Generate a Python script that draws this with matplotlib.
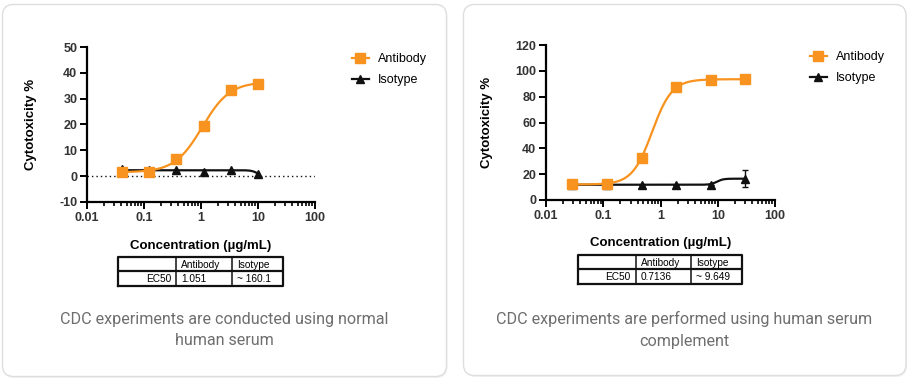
import numpy as np
import matplotlib
matplotlib.use("Agg")
import matplotlib.pyplot as plt
from matplotlib.patches import FancyBboxPatch
from matplotlib.lines import Line2D
from matplotlib.ticker import FixedLocator, FixedFormatter, LogLocator, NullFormatter

# ---- dati ----
# pannello sinistro (siero umano normale), diluizioni 1:3
conc_sx = [0.041, 0.123, 0.37, 1.11, 3.33, 10.0]
anticorpo_sx = [1.5, 1.5, 6.5, 19.5, 33.3, 35.6]
isotipo_sx = [2.8, 2.3, 2.3, 1.5, 2.3, 1.0]
# parametri del fit 4PL (bottom, top, EC50, hill)
fit_anticorpo_sx = (1.5, 36.5, 1.051, 1.8)
fit_isotipo_sx = (2.3, -0.3, 10.0, 8.0)

# pannello destro (complemento da siero umano), diluizioni 1:4
conc_dx = [0.029, 0.117, 0.469, 1.875, 7.5, 30.0]
anticorpo_dx = [12.4, 12.6, 32.8, 87.2, 92.9, 93.7]
isotipo_dx = [11.6, 12.0, 11.3, 11.5, 11.7, 16.5]
errore_isotipo_dx = [0, 0, 0, 0, 0, 6.7]
fit_anticorpo_dx = (12.0, 93.5, 0.7136, 2.5)
fit_isotipo_dx = (11.8, 16.5, 9.649, 8.0)

tabella_sx = [["", "Antibody", "Isotype"], ["EC50", "1.051", "~ 160.1"]]
tabella_dx = [["", "Antibody", "Isotype"], ["EC50", "0.7136", "~ 9.649"]]

didascalia_sx = "CDC experiments are conducted using normal\nhuman serum"
didascalia_dx = "CDC experiments are performed using human serum\ncomplement"

ARANCIO = "#f7931e"
NERO = "#111111"
W, H = 913, 384

plt.rcParams["font.family"] = ["Liberation Sans", "DejaVu Sans"]
plt.rcParams["axes.unicode_minus"] = False


def logistica(x, bottom, top, ec50, hill):
    return bottom + (top - bottom) / (1 + (ec50 / x) ** hill)


def disegna_pannello(ax, conc, anticorpo, isotipo, fit_a, fit_i, ylim, yticks, err=None):
    xx = np.logspace(np.log10(conc[0]), np.log10(conc[-1]), 300)
    ax.plot(xx, logistica(xx, *fit_a), color=ARANCIO, lw=1.6, zorder=3)
    ax.plot(xx, logistica(xx, *fit_i), color=NERO, lw=1.6, zorder=2)
    ax.errorbar(conc, isotipo, yerr=err, fmt="^", color=NERO, ms=6, capsize=2.5,
                elinewidth=1, zorder=4)
    ax.plot(conc, anticorpo, "s", color=ARANCIO, ms=7, zorder=5)

    ax.set_xscale("log")
    ax.set_xlim(0.01, 100)
    ax.set_ylim(*ylim)
    ax.xaxis.set_major_locator(FixedLocator([0.01, 0.1, 1, 10, 100]))
    ax.xaxis.set_major_formatter(FixedFormatter(["0.01", "0.1", "1", "10", "100"]))
    ax.xaxis.set_minor_locator(LogLocator(base=10, subs=np.arange(2, 10)))
    ax.xaxis.set_minor_formatter(NullFormatter())
    ax.set_yticks(yticks)
    for s in ["top", "right"]:
        ax.spines[s].set_visible(False)
    for s in ["left", "bottom"]:
        ax.spines[s].set_linewidth(1.6)
    ax.tick_params(which="major", length=5, width=1.4, labelsize=9, pad=2,
                   labelcolor="#333333")
    ax.tick_params(which="minor", length=3, width=1.2)
    for t in ax.get_xticklabels() + ax.get_yticklabels():
        t.set_fontweight("bold")
    ax.set_xlabel("Concentration (µg/mL)", fontsize=9.5, fontweight="bold")
    ax.set_ylabel("Cytotoxicity %", fontsize=9.5, fontweight="bold")
    ax.patch.set_alpha(0)

    # legenda con linea + marcatore
    maniglie = [Line2D([], [], color=ARANCIO, marker="s", ms=7, lw=1.6),
                Line2D([], [], color=NERO, marker="^", ms=6, lw=1.6)]
    return maniglie


def disegna_tabella(fig, px, righe):
    # px = (x0, y0, x1, y1) in pixel dell'immagine
    x0, y0, x1, y1 = px
    ax = fig.add_axes([x0 / W, 1 - y1 / H, (x1 - x0) / W, (y1 - y0) / H])
    ax.set_xlim(0, 1)
    ax.set_ylim(0, 1)
    ax.axis("off")
    cols = [0, 0.352, 0.691, 1.0]
    ax.plot([0, 1, 1, 0, 0], [0, 0, 1, 1, 0], color=NERO, lw=1.6, clip_on=False)
    ax.plot([0, 1], [0.5, 0.5], color=NERO, lw=1.6)
    for c in cols[1:-1]:
        ax.plot([c, c], [0, 1], color=NERO, lw=1.1)
    for r, riga in enumerate(righe):
        yc = 0.73 - 0.5 * r
        for c, testo in enumerate(riga):
            if c == 0:
                ax.text(cols[1] - 0.03, yc, testo, ha="right", va="center", fontsize=7.3)
            else:
                ax.text(cols[c] + 0.03, yc, testo, ha="left", va="center", fontsize=7.3)


fig = plt.figure(figsize=(W / 100, H / 100), dpi=100)
fig.patch.set_facecolor("white")

# schede di sfondo
sfondo = fig.add_axes([0, 0, 1, 1])
sfondo.set_xlim(0, W)
sfondo.set_ylim(H, 0)
sfondo.axis("off")
for (x0, x1, y0, y1) in [(2.5, 446.5, 4.5, 376.5), (463.5, 906, 4.5, 375.5)]:
    sfondo.add_patch(FancyBboxPatch((x0 + 1, y0 + 1.5), x1 - x0, y1 - y0,
                                    boxstyle="round,pad=0,rounding_size=11",
                                    fc="#f1f1f1", ec="none"))
    sfondo.add_patch(FancyBboxPatch((x0, y0), x1 - x0, y1 - y0,
                                    boxstyle="round,pad=0,rounding_size=11",
                                    fc="white", ec="#dedede", lw=1))

sfondo.text(224.5, 330, didascalia_sx, ha="center", va="center", fontsize=11.6,
            color="#6e6e6e", family="Roboto", linespacing=1.55)
sfondo.text(684.5, 330, didascalia_dx, ha="center", va="center", fontsize=11.6,
            color="#6e6e6e", family="Roboto", linespacing=1.55)

# pannello sinistro
ax1 = fig.add_axes([87 / W, 1 - 202 / H, 228 / W, 155 / H])
man1 = disegna_pannello(ax1, conc_sx, anticorpo_sx, isotipo_sx, fit_anticorpo_sx,
                        fit_isotipo_sx, (-10, 50), np.arange(-10, 51, 10))
ax1.axhline(0, color=NERO, lw=1, ls=(0, (1, 2.2)), zorder=1)
ax1.xaxis.set_label_coords(0.5, -0.245)
ax1.yaxis.set_label_coords(-0.22, 0.5)

# pannello destro
ax2 = fig.add_axes([546 / W, 1 - 200 / H, 229 / W, 155 / H])
man2 = disegna_pannello(ax2, conc_dx, anticorpo_dx, isotipo_dx, fit_anticorpo_dx,
                        fit_isotipo_dx, (0, 120), np.arange(0, 121, 20),
                        err=errore_isotipo_dx)
ax2.xaxis.set_label_coords(0.5, -0.24)
ax2.yaxis.set_label_coords(-0.23, 0.5)

# legende
for ax, man, (lx, ly) in [(ax1, man1, (352, 53)), (ax2, man2, (810, 51))]:
    ax.legend(man, ["Antibody", "Isotype"], loc="upper left",
              bbox_to_anchor=(lx / W, 1 - ly / H), bbox_transform=fig.transFigure,
              frameon=False, fontsize=9, handlelength=1.35, handletextpad=0.75,
              labelspacing=0.75, borderpad=0, borderaxespad=0)

# tabelle EC50
disegna_tabella(fig, (118, 257, 283, 285.5), tabella_sx)
disegna_tabella(fig, (578, 255, 742, 283.5), tabella_dx)

fig.savefig("out.png", dpi=100)
